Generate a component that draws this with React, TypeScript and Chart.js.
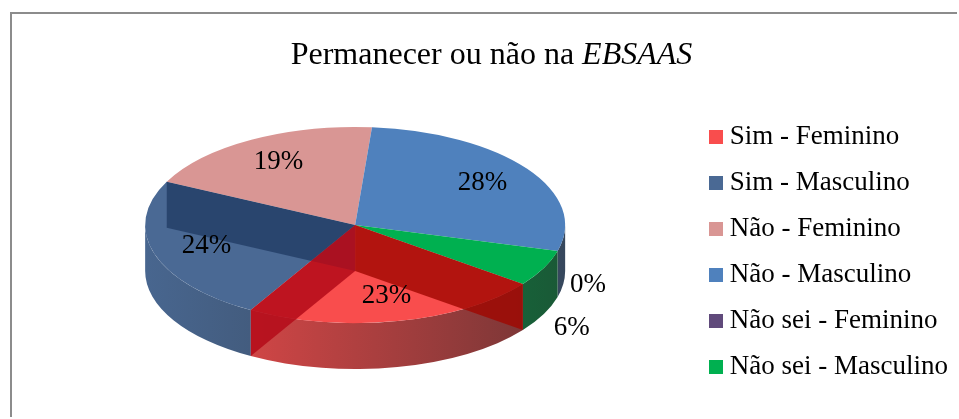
import React, { useEffect, useRef } from 'react';
import { Chart, registerables } from 'chart.js';

Chart.register(...registerables);

// ---- data ----
const titleMain = 'Permanecer ou não na ';
const titleItalic = 'EBSAAS';
const categories = [
  'Sim - Feminino',
  'Sim - Masculino',
  'Não - Feminino',
  'Não - Masculino',
  'Não sei - Feminino',
  'Não sei - Masculino',
];
const values = [23, 24, 19, 28, 0, 6];
const colors = ['#F94D4D', '#4A6994', '#D99694', '#4F81BD', '#604A7B', '#00B050'];

// ---- style constants ----
const FONT = '"Liberation Serif", "Times New Roman", serif';
const LABEL_SIZE = 27;
const TITLE_SIZE = 32;
const TITLE_SHIFT_X = 5.5;
const DEPTH = 46;
const ASPECT = 0.467;
const CENTER_Y = 225;
const WALLS = [
  { index: 1, edge: 'end', color: 'rgba(20,45,85,0.6)' },
  { index: 0, edge: 'start', color: 'rgba(160,6,0,0.8)' },
  { index: 0, edge: 'end', color: 'rgba(180,10,25,0.85)' },
];

function hexToRgb(hex: string): number[] {
  const h = hex.replace('#', '');
  return [0, 2, 4].map((i) => parseInt(h.slice(i, i + 2), 16));
}
function shade(c: number[], t: number, base = 40) {
  const v = c.map((x) => Math.round(x * t + base * (1 - t)));
  return `rgb(${v[0]},${v[1]},${v[2]})`;
}
function squareMarker(color: string) {
  const c = document.createElement('canvas');
  c.width = 14;
  c.height = 14;
  const g = c.getContext('2d');
  if (g) {
    g.fillStyle = color;
    g.fillRect(0, 0, 14, 14);
  }
  return c;
}

const pie3d = {
  id: 'pie3d',
  beforeDatasetsDraw(chart: any) {
    const meta = chart.getDatasetMeta(0);
    const arcs = meta.data;
    if (!arcs.length) return;
    const ctx = chart.ctx as CanvasRenderingContext2D;
    const { x: cx, y: cy, outerRadius: R } = arcs[0].getProps(['x', 'y', 'outerRadius'], true);
    const ry = R * ASPECT;
    const ty = CENTER_Y;
    arcs.forEach((arc: any, i: number) => {
      const { startAngle: a0, endAngle: a1 } = arc.getProps(['startAngle', 'endAngle'], true);
      if (a1 - a0 <= 0) return;
      const base = hexToRgb(colors[i]);
      const grad = ctx.createLinearGradient(cx - R, 0, cx + R, 0);
      grad.addColorStop(0, shade(base, 0.95));
      grad.addColorStop(1, shade(base, 0.35));
      for (let k = -1; k <= 2; k++) {
        const lo = Math.max(a0, 2 * Math.PI * k);
        const hi = Math.min(a1, 2 * Math.PI * k + Math.PI);
        if (hi <= lo) continue;
        ctx.beginPath();
        ctx.ellipse(cx, ty, R, ry, 0, lo, hi);
        ctx.ellipse(cx, ty + DEPTH, R, ry, 0, hi, lo, true);
        ctx.closePath();
        ctx.fillStyle = grad;
        ctx.fill();
      }
    });
    ctx.save();
    ctx.translate(cx, ty);
    ctx.scale(1, ASPECT);
    ctx.translate(-cx, -cy);
  },
  afterDatasetsDraw(chart: any) {
    const ctx = chart.ctx as CanvasRenderingContext2D;
    ctx.restore();
    const meta = chart.getDatasetMeta(0);
    const arcs = meta.data;
    if (!arcs.length) return;
    const { x: cx, outerRadius: R } = arcs[0].getProps(['x', 'outerRadius'], true);
    const ry = R * ASPECT;
    const ty = CENTER_Y;
    // inner walls
    WALLS.forEach((w) => {
      const { startAngle, endAngle } = arcs[w.index].getProps(['startAngle', 'endAngle'], true);
      const a = w.edge === 'start' ? startAngle : endAngle;
      const px = cx + R * Math.cos(a);
      const py = ty + ry * Math.sin(a);
      ctx.beginPath();
      ctx.moveTo(cx, ty);
      ctx.lineTo(px, py);
      ctx.lineTo(px, py + DEPTH);
      ctx.lineTo(cx, ty + DEPTH);
      ctx.closePath();
      ctx.fillStyle = w.color;
      ctx.fill();
    });
    // labels
    const total = values.reduce((s, v) => s + v, 0);
    ctx.save();
    ctx.font = `${LABEL_SIZE}px ${FONT}`;
    ctx.fillStyle = '#000';
    ctx.textAlign = 'center';
    ctx.textBaseline = 'middle';
    let lastOutsideY = -1e9;
    arcs.forEach((arc: any, i: number) => {
      const { startAngle, endAngle } = arc.getProps(['startAngle', 'endAngle'], true);
      const mid = (startAngle + endAngle) / 2;
      const pct = Math.round((values[i] / total) * 100);
      let x: number;
      let y: number;
      if (pct < 8) {
        x = cx + 1.15 * R * Math.cos(mid);
        y = ty + 1.15 * ry * Math.sin(mid) + DEPTH * 0.65;
        const minGap = LABEL_SIZE * 1.6;
        if (y < lastOutsideY + minGap) y = lastOutsideY + minGap;
        lastOutsideY = y;
      } else {
        x = cx + 0.74 * R * Math.cos(mid);
        y = ty + 0.74 * ry * Math.sin(mid);
      }
      ctx.fillText(`${pct}%`, x, y);
    });
    ctx.restore();
  },
};

const titleDraw = {
  id: 'titleDraw',
  afterDraw(chart: any) {
    const tb = chart.titleBlock;
    if (!tb) return;
    const ctx = chart.ctx as CanvasRenderingContext2D;
    ctx.save();
    ctx.fillStyle = '#000';
    ctx.textBaseline = 'middle';
    ctx.textAlign = 'left';
    ctx.font = `${TITLE_SIZE}px ${FONT}`;
    const w1 = ctx.measureText(titleMain).width;
    ctx.font = `italic ${TITLE_SIZE}px ${FONT}`;
    const w2 = ctx.measureText(titleItalic).width;
    const centerX = (tb.left + tb.right) / 2 + TITLE_SHIFT_X;
    const y = tb.top + 36 + (TITLE_SIZE * 1.2) / 2;
    let x = centerX - (w1 + w2) / 2;
    ctx.font = `${TITLE_SIZE}px ${FONT}`;
    ctx.fillText(titleMain, x, y);
    x += w1;
    ctx.font = `italic ${TITLE_SIZE}px ${FONT}`;
    ctx.fillText(titleItalic, x, y);
    ctx.restore();
  },
};

export default function App() {
  const ref = useRef<HTMLCanvasElement | null>(null);
  useEffect(() => {
    if (!ref.current) return;
    const chart = new Chart(ref.current, {
      type: 'pie',
      data: {
        labels: categories,
        datasets: [
          {
            data: values,
            backgroundColor: colors,
            borderWidth: 0,
            rotation: 127,
            radius: 210,
            clip: false as any,
          } as any,
        ],
      },
      options: {
        responsive: true,
        maintainAspectRatio: false,
        animation: false,
        events: [],
        layout: { padding: { left: 14, right: 1, top: 0, bottom: 0 } },
        plugins: {
          title: {
            display: true,
            text: titleMain + titleItalic,
            color: 'rgba(0,0,0,0)',
            font: { family: FONT, size: TITLE_SIZE, weight: 'normal' as any },
            padding: { top: 36, bottom: 11 },
          },
          legend: {
            position: 'right',
            fullSize: false,
            labels: {
              color: '#000',
              font: { family: FONT, size: LABEL_SIZE },
              usePointStyle: true,
              boxWidth: 1,
              boxHeight: 14,
              padding: 19,
              generateLabels(chart: any) {
                const items = (Chart as any).overrides.pie.plugins.legend.labels.generateLabels(chart);
                return items.map((it: any, i: number) => ({ ...it, pointStyle: squareMarker(colors[i]) }));
              },
            },
          },
          tooltip: { enabled: false },
        },
      },
      plugins: [pie3d, titleDraw],
    });
    return () => chart.destroy();
  }, []);
  return (
    <div style={{ position: 'fixed', left: 0, top: 0, width: 959, height: 419, background: '#fff' }}>
      <div
        style={{
          position: 'absolute',
          left: 10,
          top: 12,
          width: 945,
          height: 403,
          borderLeft: '2px solid #8c8c8c',
          borderTop: '2px solid #8c8c8c',
        }}
      />
      <div style={{ position: 'absolute', left: 0, top: 0, width: 959, height: 419 }}>
        <canvas ref={ref} />
      </div>
    </div>
  );
}
